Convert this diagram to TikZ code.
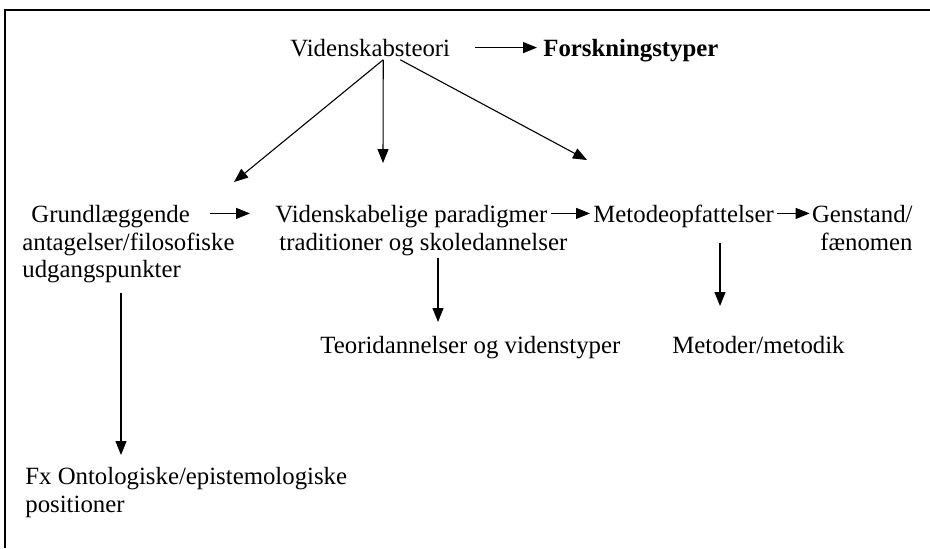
\documentclass[tikz,border=0pt]{standalone}
\usepackage{fontspec}
\setmainfont{Liberation Serif}
\usetikzlibrary{arrows.meta}

\begin{document}
\begin{tikzpicture}[
    x=0.5pt, y=-0.5pt,
    box/.style={inner sep=0pt, font=\fontsize{12.4}{13.8}\selectfont},
    arrow/.style={-{Triangle[length=7pt,width=5.5pt]}, line width=0.55pt}
]
\useasboundingbox (0,0) rectangle (930,548);

% Frame
\draw[line width=0.8pt] (5,548) -- (5,10) -- (930,10);

% Top row
\node[box, anchor=base west] (vid) at (290,56) {Videnskabsteori};
\node[box, anchor=base west, font=\fontsize{12.4}{13.8}\selectfont\bfseries] (forsk) at (543,56) {Forskningstyper};

% Middle row
\node[box, anchor=north west, align=left] (grund) at (22,205) {\hspace*{4.5pt}Grundlæggende\\antagelser/filosofiske\\udgangspunkter};
\node[box, anchor=north west, align=left] (para) at (275,205) {Videnskabelige paradigmer\\\hspace*{2pt}traditioner og skoledannelser};
\node[box, anchor=north west] (metode) at (593,205) {Metodeopfattelser};
\node[box, anchor=north east, align=right] (genstand) at (913,205) {Genstand/\\fænomen};

% Lower rows
\node[box, anchor=base west] (teori) at (320,353) {Teoridannelser og videnstyper};
\node[box, anchor=base west] (metoder) at (672,353) {Metoder/metodik};
\node[box, anchor=north west, align=left] (fx) at (25,467) {Fx Ontologiske/epistemologiske\\positioner};

% Free arrow ends
\coordinate (grundtip) at (234,182);
\coordinate (paratip) at (383,163);
\coordinate (metodetip) at (587,160);
\coordinate (teoritip) at (438,322);
\coordinate (metodertip) at (720,306);
\coordinate (fxtip) at (121,455);

% Arrows
\draw[arrow] ([xshift=12.5pt]vid.east) -- ([xshift=-3pt]vid.east -| forsk.west);
\draw[arrow] ([xshift=6.5pt,yshift=-1.5pt]vid.south) -- (grundtip);
\draw[arrow] ([xshift=6.5pt,yshift=-1.5pt]vid.south) -- (paratip);
\draw[arrow] ([xshift=15pt,yshift=-1.5pt]vid.south) -- (metodetip);

\draw[arrow] ([xshift=-12.5pt,yshift=-4.2pt]grund.north east) -- ([xshift=-12.5pt,yshift=-4.2pt]para.north west);
\draw[arrow] ([xshift=-8.5pt,yshift=-4.2pt]para.north east) -- ([xshift=-1.5pt,yshift=-4.2pt]metode.north west);
\draw[arrow] ([xshift=1.5pt,yshift=-4.2pt]metode.north east) -- ([xshift=-1pt,yshift=-4.2pt]genstand.north west);

\draw[arrow, shorten <=1pt] (para.south -| teoritip) -- (teoritip);
\draw[arrow, shorten <=7pt] (metode.south -| metodertip) -- (metodertip);
\draw[arrow, shorten <=4.5pt] (grund.south -| fxtip) -- (fxtip);

\end{tikzpicture}
\end{document}
